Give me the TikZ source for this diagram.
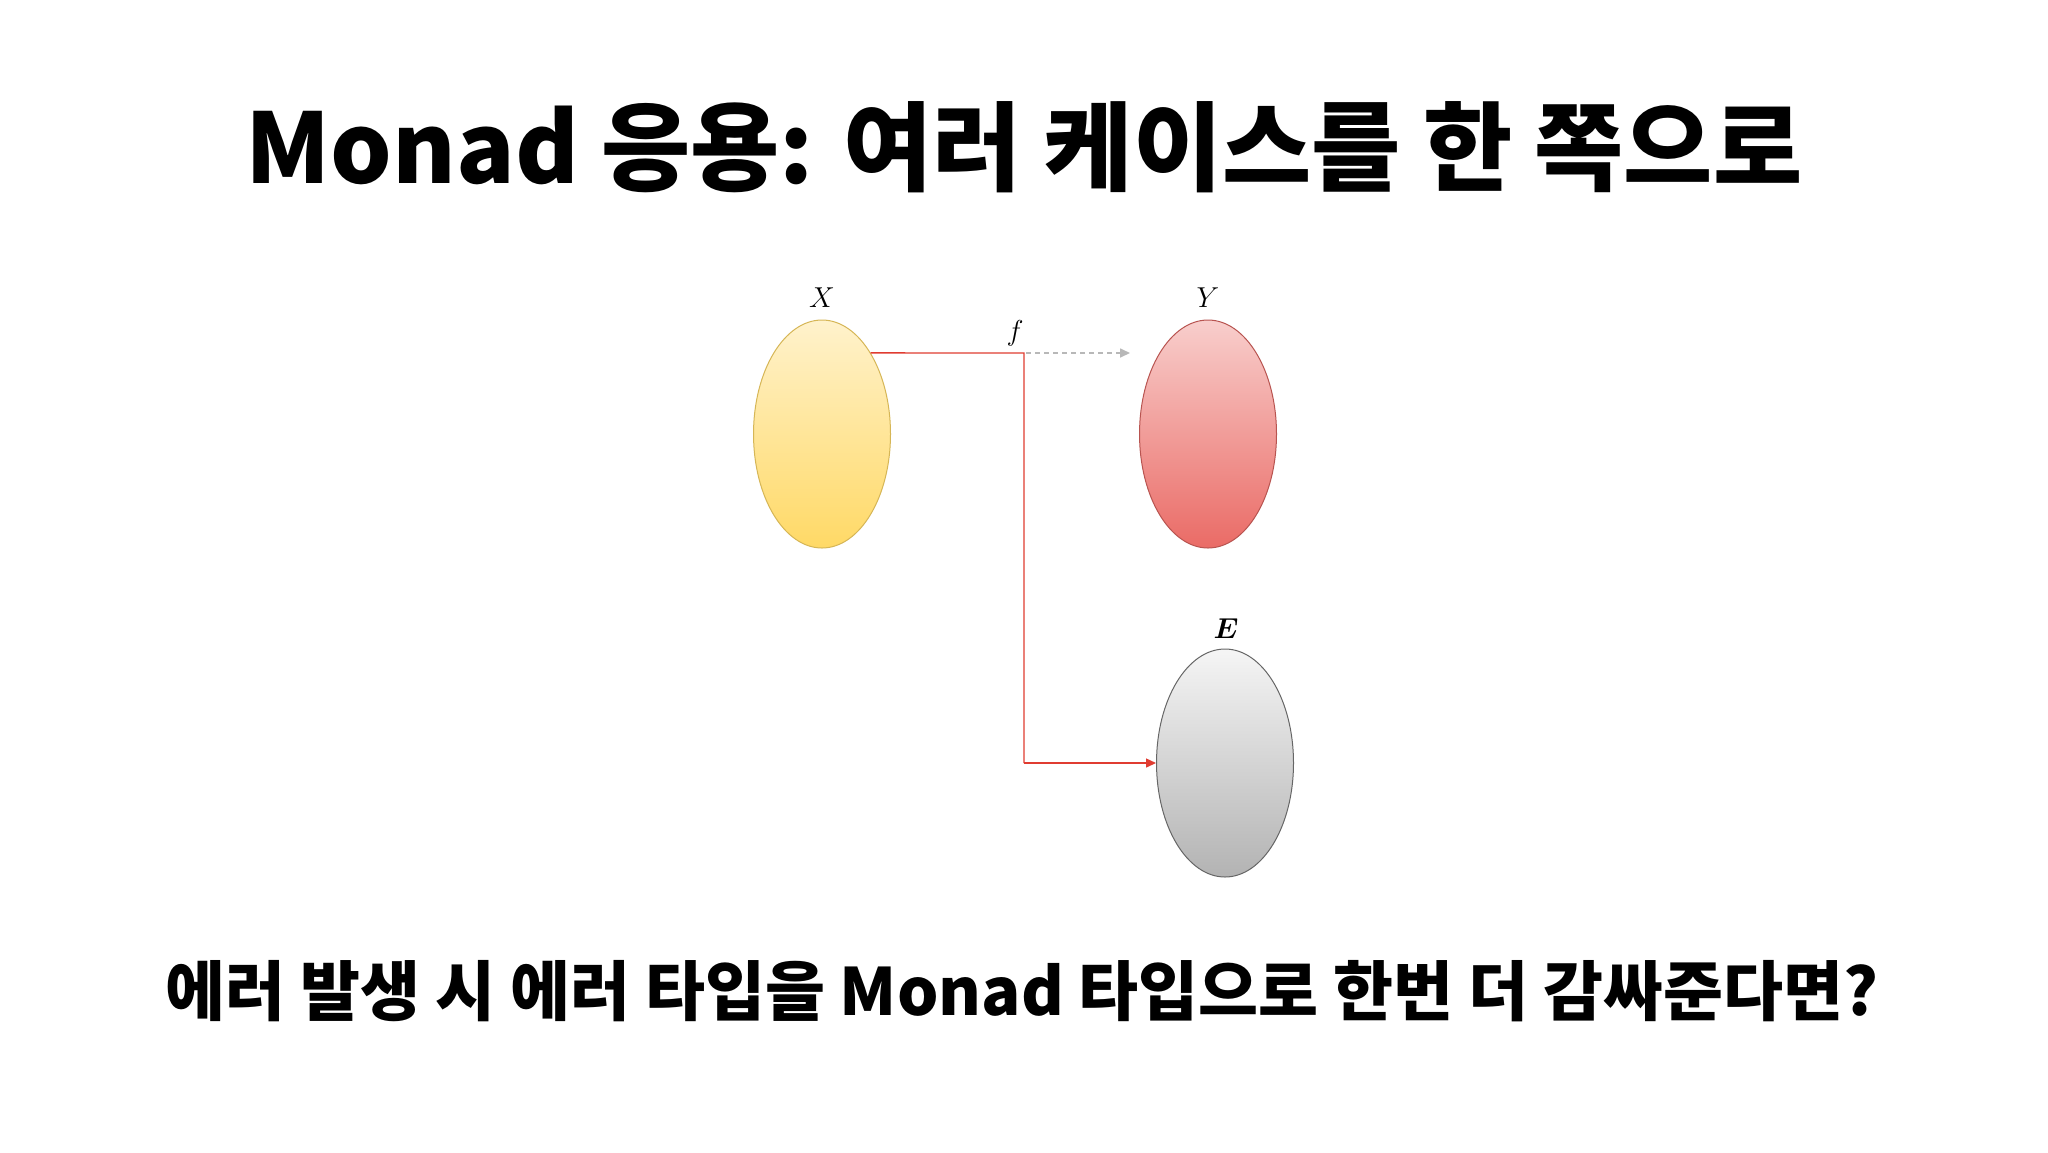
\documentclass[tikz,border=0pt]{standalone}
\usepackage{amsmath}
\usepackage{fontspec}
\newfontfamily\krfont{Noto Sans CJK KR}
\usetikzlibrary{shapes.geometric,arrows.meta}
\definecolor{yfill}{HTML}{FFF2CC}
\definecolor{ygrad}{HTML}{FFD966}
\definecolor{ystroke}{HTML}{D6B656}
\definecolor{rfill}{HTML}{F8CECC}
\definecolor{rgrad}{HTML}{EA6B66}
\definecolor{rstroke}{HTML}{B85450}
\definecolor{gfill}{HTML}{F5F5F5}
\definecolor{ggrad}{HTML}{B3B3B3}
\definecolor{gstroke}{HTML}{666666}
\definecolor{linkred}{HTML}{E03C31}
\definecolor{dashgray}{HTML}{B8B8B8}
\tikzset{
  setnode/.style={ellipse, inner sep=0pt, minimum width=68.5pt, minimum height=114pt, line width=0.5pt},
  setlabel/.style={font=\fontsize{15}{17}\selectfont},
  redlink/.style={draw=linkred, line width=0.7pt},
  graylink/.style={draw=dashgray, line width=0.8pt, dash pattern=on 2.5pt off 2pt},
}
\begin{document}
\begin{tikzpicture}[x=0.5pt,y=-0.5pt]
\useasboundingbox[fill=white] (0,0) rectangle (2048,1152);
% title
\node[anchor=base, inner sep=0pt, font=\krfont\bfseries\fontsize{48.5}{54}\selectfont] (title) at (1024,183) {Monad 응용: 여러 케이스를 한 쪽으로};
% sets
\node[setnode, draw=ystroke, top color=yfill, bottom color=ygrad] (X) at (822,434) {};
\node[setnode, draw=rstroke, top color=rfill, bottom color=rgrad] (Y) at (1208,434) {};
\node[setnode, draw=gstroke, top color=gfill, bottom color=ggrad] (E) at (1225,763) {};
\node[setlabel] (Xl) at (822,298) {$X$};
\node[setlabel] (Yl) at (1208,298) {$Y$};
\node[setlabel] (El) at (1226,629) {$\boldsymbol{E}$};
\node[setlabel] (fl) at (1015,333) {$f$};
% connectors
\coordinate (corner) at (1024,353);
\coordinate (dashend) at (1130,353);
\coordinate (bend) at (1024,763);
\draw[redlink] (X.59) -- (corner) -- (bend);
\draw[graylink, -{Triangle[length=5pt,width=4.5pt]}] ([xshift=1pt]corner) -- (dashend);
\draw[linkred, line width=0.7pt, -{Triangle[length=5pt,width=4.5pt]}] (bend) -- (E.west);
% bottom text
\node[anchor=base, inner sep=0pt, font=\krfont\bfseries\fontsize{32.6}{38}\selectfont] (sub) at (1022,1015) {에러 발생 시 에러 타입을 Monad 타입으로 한번 더 감싸준다면?};
\end{tikzpicture}
\end{document}
